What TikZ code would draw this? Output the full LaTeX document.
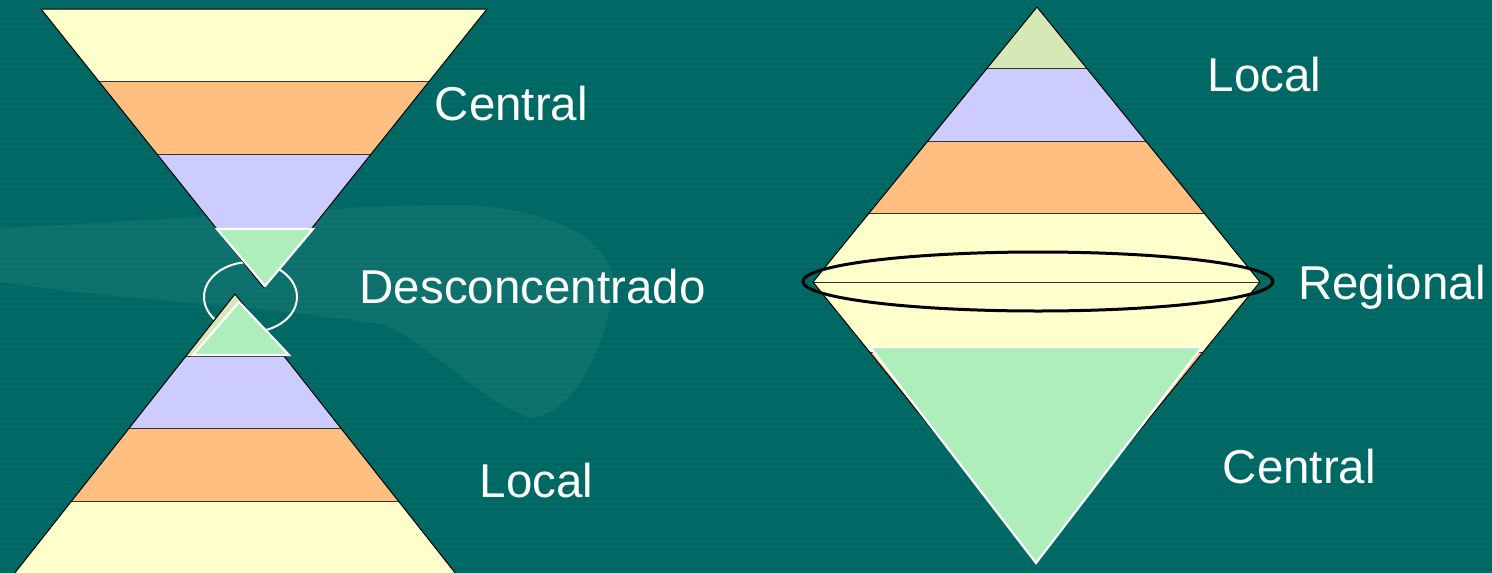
\documentclass[tikz,border=0pt]{standalone}
\usepackage{fontspec}
\setmainfont{Liberation Sans}
\definecolor{bgteal}{HTML}{006B66}
\definecolor{bgstripe}{HTML}{00625E}
\definecolor{bandyellow}{HTML}{FFFFCC}
\definecolor{bandorange}{HTML}{FFBF80}
\definecolor{bandlav}{HTML}{CCCCFF}
\definecolor{bandgreen}{HTML}{ADEEBA}
\definecolor{tipgreen}{HTML}{D6E8B5}
\tikzset{
  bandline/.style={draw=black!80, line width=0.9pt},
  outline/.style={draw=black, line width=1pt},
  overlaytri/.style={fill=bandgreen, draw=white, line width=2.2pt, line join=miter},
  label/.style={anchor=base west, inner sep=0pt, text=white, font=\fontsize{47.5}{57}\selectfont},
  handshade/.style={fill=white, opacity=0.055}
}
\begin{document}
\begin{tikzpicture}[x=1pt, y=-1pt]
\useasboundingbox (0,0) rectangle (1492,573);
% background
\fill[bgteal] (0,0) rectangle (1492,573);
\foreach \i in {0,...,114} {
  \fill[bgstripe, opacity=0.55] (0,{\i*5+2.5}) rectangle (1492,{\i*5+5});
}
% faint hand in the background
\fill[handshade] (0,228) .. controls (150,222) and (330,205) .. (460,205)
  .. controls (560,208) and (625,245) .. (612,300)
  .. controls (600,360) and (570,415) .. (530,418)
  .. controls (480,400) and (430,345) .. (385,325)
  .. controls (260,305) and (120,300) .. (0,282) -- cycle;

% ---------- left hourglass ----------
\draw[white, line width=2pt] (250.5,297) ellipse [x radius=46.5, y radius=35];

% top inverted pyramid
\begin{scope}
  \clip (41,9) -- (487,9) -- (264,288) -- cycle;
  \fill[bandyellow] (0,0) rectangle (600,81);
  \fill[bandorange] (0,81) rectangle (600,154);
  \fill[bandlav] (0,154) rectangle (600,228);
  \fill[tipgreen] (0,228) rectangle (600,300);
  \draw[bandline] (0,81) -- (600,81);
  \draw[bandline] (0,154) -- (600,154);
  \draw[bandline] (0,228) -- (600,228);
\end{scope}
\draw[outline] (41,9) -- (487,9) -- (264,288) -- cycle;
\path[overlaytri] (217,229) -- (313,229) -- (265,286) -- cycle;

% bottom pyramid
\begin{scope}
  \clip (235,294) -- (456,574) -- (14,574) -- cycle;
  \fill[tipgreen] (0,290) rectangle (600,356);
  \fill[bandlav] (0,356) rectangle (600,428);
  \fill[bandorange] (0,428) rectangle (600,501);
  \fill[bandyellow] (0,501) rectangle (600,580);
  \draw[bandline] (0,356) -- (600,356);
  \draw[bandline] (0,428) -- (600,428);
  \draw[bandline] (0,501) -- (600,501);
\end{scope}
\draw[outline] (14,574) -- (235,294) -- (456,574);
\path[overlaytri] (193,355) -- (289,355) -- (239,302) -- cycle;

% ---------- right diamond ----------
\begin{scope}
  \clip (1037,7) -- (1260,282) -- (1036,558) -- (813,282) -- cycle;
  \fill[tipgreen] (800,0) rectangle (1300,68);
  \fill[bandlav] (800,68) rectangle (1300,141);
  \fill[bandorange] (800,141) rectangle (1300,213);
  \fill[bandyellow] (800,213) rectangle (1300,352);
  \fill[bandorange] (800,352) rectangle (1300,425);
  \fill[bandlav] (800,425) rectangle (1300,497);
  \fill[bandgreen] (800,497) rectangle (1300,570);
  \foreach \yy in {68,141,213,282,352,425,497} {
    \draw[bandline] (800,\yy) -- (1300,\yy);
  }
\end{scope}
\draw[outline] (1037,7) -- (1260,282) -- (1036,558) -- (813,282) -- cycle;
\path[overlaytri] (870,347) -- (1202,347) -- (1036,563) -- cycle;
\draw[black, line width=3pt] (1038,281.5) ellipse [x radius=235, y radius=29.5];

% ---------- labels ----------
\node[label] (lcentral) at (434.6,120) {Central};
\node[label] (ldesc) at (359.5,303) {Desconcentrado};
\node[label] (llocal) at (479.5,497) {Local};
\node[label] (rlocal) at (1207.5,91) {Local};
\node[label] (rregional) at (1298,299) {Regional};
\node[label] (rcentral) at (1222.6,483) {Central};
\end{tikzpicture}
\end{document}
